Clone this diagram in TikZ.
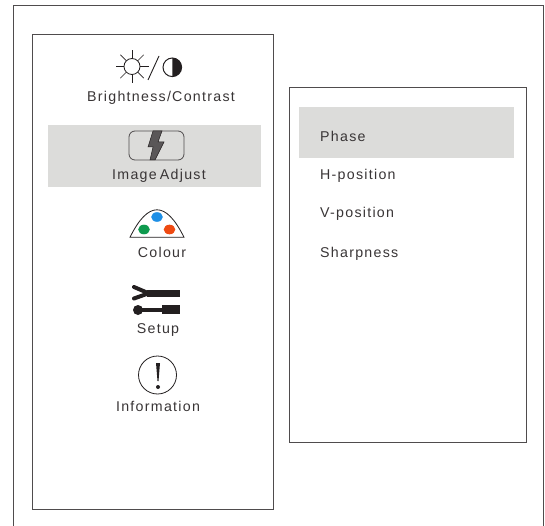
\documentclass[tikz,border=0pt]{standalone}
\usepackage{fontspec}
\setmainfont[LetterSpace=9]{Liberation Sans}
\definecolor{ink}{HTML}{231F20}
\definecolor{hl}{HTML}{DCDCDA}
\definecolor{cblue}{HTML}{1E8FE6}
\definecolor{cgreen}{HTML}{0E9A4E}
\definecolor{cred}{HTML}{EE4A12}
\tikzset{
  x=1pt,y=-1pt,
  frame/.style={draw=ink!80,line width=1pt},
  lbl/.style={text=ink!90,font=\fontsize{14.2pt}{16pt}\selectfont,inner sep=0pt,anchor=base},
  menu/.style={lbl,anchor=base west},
  icon/.style={draw=ink,line width=0.8pt},
  band/.style={fill=hl,draw=none}
}
\begin{document}
\begin{tikzpicture}
\useasboundingbox (0,0) rectangle (545,526);
\fill[white] (0,0) rectangle (545,526);
\draw[frame] (13,530) -- (13,5.5) -- (543,5.5) -- (543,530);
\node[frame,minimum width=241pt,minimum height=475pt,inner sep=0pt] (leftbox) at (153,272) {};
\node[frame,minimum width=237pt,minimum height=354pt,inner sep=0pt] (rightbox) at (407.5,265) {};
\fill[band] (48,125) rectangle (261,187);
\fill[band] (299,107) rectangle (514,158);
% sun
\draw[icon] (132,66.5) circle (8);
\foreach \a in {0,45,...,315}{\draw[icon,line width=0.7pt] (132,66.5) ++(\a:8) -- ++(\a:8.5);}
\draw[icon,line width=0.9pt] (148,80) -- (159,56);
\draw[icon,line width=1pt] (172.3,67.3) circle (9.3);
\fill[ink] (172.3,58) arc (-90:90:9.3) -- cycle;
% image adjust
\draw[icon,draw=ink!80,rounded corners=6pt] (129,131) rectangle (184,160);
\fill[ink!75,draw=ink,line width=0.5pt] (153,131) -- (162,131) -- (158,142) -- (164,142) -- (155,160) -- (150,160) -- (153,147) -- (148,147) -- cycle;
% colour
\draw[icon,fill=white] (130,237.3) .. controls (139,219) and (148,209.8) .. (157,209.8) .. controls (166,209.8) and (175,219) .. (184,237.3) -- cycle;
\fill[cblue] (157,217) ellipse (5.8 and 4.8);
\fill[cgreen] (144,229.5) ellipse (5.8 and 4.8);
\fill[cred] (169.5,229.5) ellipse (5.8 and 4.8);
% setup
\fill[ink] (147,290) rectangle (180,296.5);
\draw[ink,line width=4pt,line cap=round] (134,287) -- (148,293);
\draw[ink,line width=4pt,line cap=round] (134,298.5) -- (148,293.5);
\fill[ink] (162,305) rectangle (180,314);
\fill[ink] (138,310) circle (5);
\fill[ink] (138,308) rectangle (163,312);
% information
\draw[icon] (157.5,375) circle (19);
\fill[ink] (156,363) -- (160,363) -- (158.5,381) -- (157.5,381) -- cycle;
\fill[ink] (158,387) circle (2);
% labels
\node[lbl] (t1) at (161,102) {Brightness/Contrast};
\node[lbl] (t2) at (159,179.5) {Image\hspace{-2pt} Adjust};
\node[lbl] (t3) at (162,258) {Colour};
\node[lbl] (t4) at (158,333.5) {Setup};
\node[lbl] (t5) at (158,411.5) {Information};
\node[menu] (m1) at (320,142) {Phase};
\node[menu] (m2) at (320,180) {H-position};
\node[menu] (m3) at (320,218) {V-position};
\node[menu] (m4) at (320,258) {Sharpness};
\end{tikzpicture}
\end{document}
